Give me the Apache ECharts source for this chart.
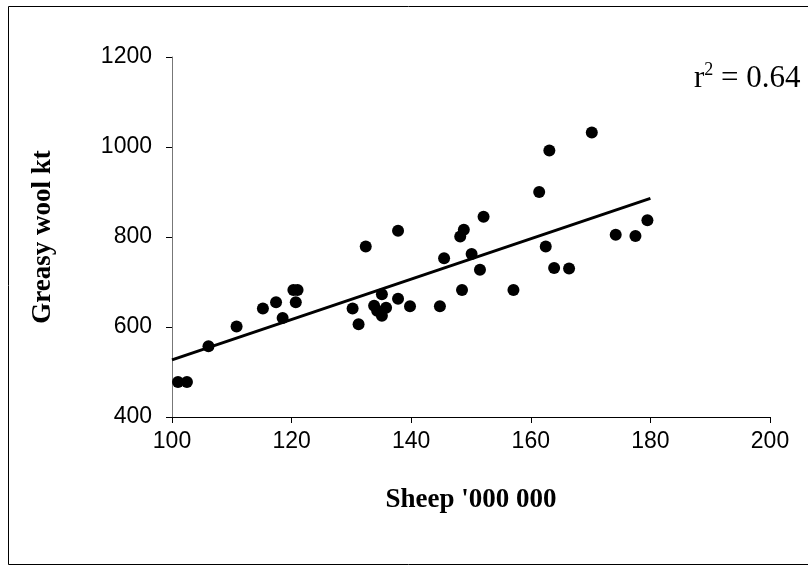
<!DOCTYPE html>
<html lang="en">
<head>
    <meta charset="UTF-8">
    <script src="https://cdn.jsdelivr.net/npm/echarts@6/dist/echarts.min.js"></script>
    <title>Sheep vs greasy wool</title>
</head>
<body style="margin:0;background:#fff;">
<div id="main" style="width: 808px;height:570px;"></div>
<script type="text/javascript">
        // sheep numbers ('000 000) and greasy wool (kt)
        var sheep = [101.0, 102.5, 106.1, 110.8, 115.2, 117.4, 118.5, 120.3, 121.0, 120.7,
                     130.2, 131.2, 132.4, 133.8, 134.3, 135.1, 135.1, 135.8, 137.8, 137.8,
                     139.8, 144.8, 145.5, 148.2, 148.8, 148.5, 150.1, 151.5, 152.1, 157.1,
                     161.4, 163.1, 162.5, 163.9, 166.4, 170.2, 174.2, 177.5, 179.5];
        var wool = [478, 478, 557, 601, 641, 655, 620, 682, 682, 655,
                    641, 606, 779, 647, 636, 673, 625, 643, 814, 663,
                    646, 646, 753, 801, 816, 682, 762, 727, 845, 682,
                    900, 992, 779, 731, 730, 1032, 805, 802, 837];
        // fitted line end points as drawn
        var trendX = [100, 180];
        var trendY = [527, 886];
        var xTicks = [100, 120, 140, 160, 180, 200];
        var yTicks = [400, 600, 800, 1000, 1200];

        var points = [];
        for (var i = 0; i < sheep.length; i++) {
            points.push([sheep[i], wool[i]]);
        }
        var trend = [[trendX[0], trendY[0]], [trendX[1], trendY[1]]];

        var tickFont = "'Liberation Sans Narrow', 'Liberation Sans', sans-serif";
        var titleFont = "'Liberation Serif', 'DejaVu Serif', serif";

        var myChart = echarts.init(document.getElementById('main'));
        var option = {
            backgroundColor: '#fff',
            animation: false,
            grid: {left: 172, right: 38, top: 57, bottom: 153},
            xAxis: {
                type: 'value',
                min: xTicks[0],
                max: xTicks[xTicks.length - 1],
                interval: 20,
                name: "Sheep '000 000",
                nameLocation: 'middle',
                nameGap: 70,
                nameTextStyle: {fontFamily: titleFont, fontWeight: 'bold', fontSize: 27, color: '#000'},
                axisLine: {lineStyle: {color: '#000', width: 1}},
                axisTick: {show: true, length: 6, lineStyle: {color: '#000'}},
                axisLabel: {fontFamily: tickFont, fontSize: 23, color: '#000', margin: 13,
                            formatter: function (v) { return String(v); }},
                splitLine: {show: false}
            },
            yAxis: {
                type: 'value',
                min: yTicks[0],
                max: yTicks[yTicks.length - 1],
                interval: 200,
                name: 'Greasy wool kt',
                nameLocation: 'middle',
                nameGap: 115,
                nameTextStyle: {fontFamily: titleFont, fontWeight: 'bold', fontSize: 27, color: '#000'},
                axisLine: {show: true, lineStyle: {color: '#777', width: 1}},
                axisTick: {show: true, length: 6, lineStyle: {color: '#000'}},
                axisLabel: {fontFamily: tickFont, fontSize: 23, color: '#000', margin: 20,
                            formatter: function (v) { return String(v); }},
                splitLine: {show: false}
            },
            graphic: [
                {
                    type: 'rect',
                    shape: {x: 8.5, y: 6.5, width: 800, height: 558},
                    style: {fill: null, stroke: '#000', lineWidth: 1},
                    silent: true
                },
                {
                    type: 'text',
                    left: 694,
                    top: 61,
                    style: {
                        text: '{a|r}{s|2}{a| = 0.64}',
                        rich: {
                            a: {fontFamily: titleFont, fontSize: 31, fill: '#000', verticalAlign: 'bottom'},
                            s: {fontFamily: titleFont, fontSize: 18, fill: '#000', verticalAlign: 'top', padding: [0, 0, 15, 0]}
                        }
                    }
                }
            ],
            series: [
                {
                    type: 'scatter',
                    data: points,
                    symbol: 'circle',
                    symbolSize: 12,
                    itemStyle: {color: '#000', opacity: 1},
                    z: 3
                },
                {
                    type: 'line',
                    data: trend,
                    symbol: 'none',
                    lineStyle: {color: '#000', width: 3},
                    z: 2
                }
            ]
        };
        myChart.setOption(option);
    </script>
</body>
</html>
